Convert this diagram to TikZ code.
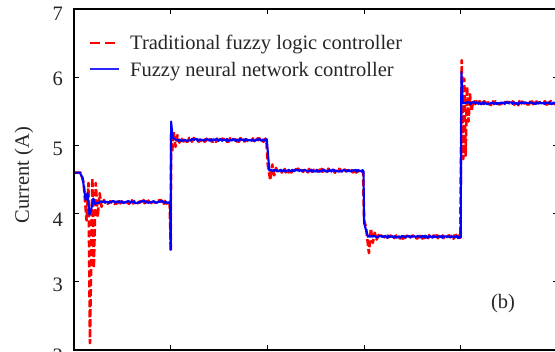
\documentclass[tikz,border=0pt]{standalone}
\usepackage{fontspec}
\setmainfont{Liberation Serif}
\definecolor{legblue}{RGB}{40,40,255}
\begin{document}
\begin{tikzpicture}[x=1pt,y=1pt,
  lab/.style={font=\fontsize{20.5}{24}\selectfont, text=black!85, inner sep=0pt},
  redc/.style={draw=red, line width=2.6pt, dash pattern=on 7pt off 3pt, line join=round},
  bluec/.style={draw=blue, line width=2.1pt, line join=round},
  frame/.style={line width=1.8pt, black}]
\pgfmathsetseed{4321}
\useasboundingbox (0,0) rectangle (555,352);
\begin{scope}
\clip (0,0) rectangle (555,352);
\begin{scope}[x=96.7pt, y=68.2pt, shift={(74pt,-134.4pt)}]
 \draw[redc] (0,4.6) -- (0.07,4.6) -- (0.1,4.45) -- (0.13,3.9) -- (0.15,4.45) -- (0.165,2.1) -- (0.19,4.52) -- (0.205,3.2) -- (0.225,4.45) -- (0.245,3.95) -- (0.265,4.3) -- (0.285,4.1) -- (0.31,4.2)
 -- plot[domain=0.32:0.99, samples=68] (\x,{4.17+0.03*rand})
 -- (1.0,3.45) -- (1.005,5.2) -- (1.015,4.9) -- (1.03,5.2) -- (1.05,4.98) -- (1.07,5.15) -- (1.09,5.04)
 -- plot[domain=1.1:1.99, samples=90] (\x,{5.08+0.03*rand})
 -- (2.005,4.7) -- (2.03,4.49) -- (2.05,4.72) -- (2.07,4.56) -- (2.09,4.67)
 -- plot[domain=2.1:2.99, samples=90] (\x,{4.63+0.03*rand})
 -- (3.0,3.9) -- (3.02,3.8) -- (3.05,3.42) -- (3.07,3.78) -- (3.09,3.57) -- (3.11,3.72) -- (3.13,3.62)
 -- plot[domain=3.15:3.995, samples=85] (\x,{3.66+0.03*rand})
 -- (4.01,6.25) -- (4.025,4.8) -- (4.035,5.98) -- (4.05,4.85) -- (4.065,5.86) -- (4.08,5.35) -- (4.095,5.75) -- (4.11,5.5) -- (4.13,5.66)
 -- plot[domain=4.15:5.0, samples=85] (\x,{5.62+0.03*rand});
 \draw[bluec] (0,4.6) -- (0.06,4.6) -- (0.09,4.52) -- (0.12,4.2) -- (0.14,4.3) -- (0.16,3.98) -- (0.18,4.08) -- (0.2,4.22) -- (0.22,4.14)
 -- plot[domain=0.24:0.995, samples=76] (\x,{4.17+0.016*rand})
 -- (1.0,3.47) -- (1.004,5.35) -- (1.02,5.12)
 -- plot[domain=1.04:1.995, samples=96] (\x,{5.08+0.016*rand})
 -- (2.02,4.63)
 -- plot[domain=2.03:2.995, samples=97] (\x,{4.63+0.016*rand})
 -- (3.0,3.86) -- (3.04,3.66)
 -- plot[domain=3.05:4.0, samples=96] (\x,{3.66+0.016*rand})
 -- (4.006,6.08) -- (4.018,5.62)
 -- plot[domain=4.03:5.0, samples=97] (\x,{5.62+0.016*rand});
 \draw[frame] (0,2) rectangle (5,7);
 \foreach \v in {3,4,5,6} {\draw[frame, line width=1.2pt] (0,\v) -- ++(5pt,0); \draw[frame, line width=1.2pt] (5,\v) -- ++(-5pt,0);}
 \foreach \u in {1,2,3,4} {\draw[frame, line width=1.2pt] (\u,2) -- ++(0,5pt); \draw[frame, line width=1.2pt] (\u,7) -- ++(0,-5pt);}
\end{scope}
\end{scope}
\node[lab, anchor=base west] (l1) at (130,302.5) {Traditional fuzzy logic controller};
\node[lab, anchor=base west] (l2) at (130,275.5) {Fuzzy neural network controller};
\draw[red, line width=1.8pt, dash pattern=on 10pt off 4.5pt] (90,309.3) -- (117,309.3);
\draw[legblue, line width=2pt] (90,282.7) -- (119,282.7);
\node[lab, anchor=east] (t7) at (63,338) {7};
\node[lab, anchor=east] (t6) at (63,273) {6};
\node[lab, anchor=east] (t5) at (63,203) {5};
\node[lab, anchor=east] (t4) at (63,132) {4};
\node[lab, anchor=east] (t3) at (63,67) {3};
\node[lab, anchor=east] (t2) at (63,-4) {2};
\node[lab, rotate=90] (yl) at (24,177) {Current (A)};
\node[lab] (b) at (503,48) {(b)};
\end{tikzpicture}
\end{document}
